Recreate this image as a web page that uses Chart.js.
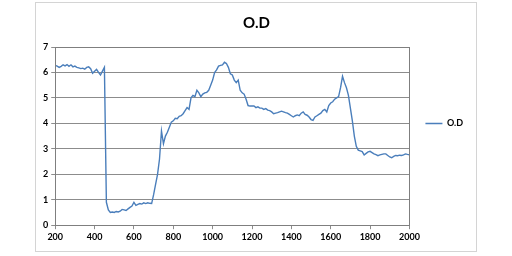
<!DOCTYPE html>
<html>
<head>
<meta charset="utf-8">
<script src="https://cdn.jsdelivr.net/npm/chart.js@4"></script>
<style>
  html, body { margin: 0; padding: 0; background: #fff; }
  #box { position: absolute; left: 35px; top: 2px; width: 442px; height: 250px;
         border: 1px solid #d4d4d4; box-sizing: border-box; }
  #odChart { display: block; }
</style>
</head>
<body>
<div id="box"><canvas id="odChart" width="440" height="248"></canvas></div>
<script>
// wavelength (nm) and optical density
const wavelength = [
  200, 210, 220, 230, 240, 250, 260, 270, 280, 290, 300, 310, 320, 330, 340, 350, 360, 370, 380, 390,
  400, 410, 420, 430, 440, 450, 460, 470, 480, 490, 500, 510, 520, 530, 540, 550, 560, 570, 580, 590,
  600, 610, 620, 630, 640, 650, 660, 670, 680, 690, 700, 710, 720, 730, 740, 750, 760, 770, 780, 790,
  800, 810, 820, 830, 840, 850, 860, 870, 880, 890, 900, 910, 920, 930, 940, 950, 960, 970, 980, 990,
  1000, 1010, 1020, 1030, 1040, 1050, 1060, 1070, 1080, 1090, 1100, 1110, 1120, 1130, 1140, 1150, 1160, 1170, 1180, 1190,
  1200, 1210, 1220, 1230, 1240, 1250, 1260, 1270, 1280, 1290, 1300, 1310, 1320, 1330, 1340, 1350, 1360, 1370, 1380, 1390,
  1400, 1410, 1420, 1430, 1440, 1450, 1460, 1470, 1480, 1490, 1500, 1510, 1520, 1530, 1540, 1550, 1560, 1570, 1580, 1590,
  1600, 1610, 1620, 1630, 1640, 1650, 1660, 1670, 1680, 1690, 1700, 1710, 1720, 1730, 1740, 1750, 1760, 1770, 1780, 1790,
  1800, 1810, 1820, 1830, 1840, 1850, 1860, 1870, 1880, 1890, 1900, 1910, 1920, 1930, 1940, 1950, 1960, 1970, 1980, 1990,
  2000
];
const od = [
  6.28, 6.25, 6.2, 6.24, 6.3, 6.26, 6.31, 6.24, 6.3, 6.22, 6.25, 6.2, 6.18, 6.15, 6.17, 6.13, 6.2, 6.22, 6.15, 5.97,
  6.05, 6.12, 6.0, 5.9, 6.05, 6.2, 0.9, 0.6, 0.5, 0.52, 0.5, 0.54, 0.52, 0.55, 0.62, 0.6, 0.58, 0.64, 0.7, 0.75,
  0.9, 0.78, 0.82, 0.85, 0.83, 0.88, 0.85, 0.88, 0.86, 0.85, 1.2, 1.6, 2.0, 2.6, 3.7, 3.2, 3.5, 3.65, 3.85, 4.05,
  4.1, 4.2, 4.18, 4.28, 4.3, 4.38, 4.5, 4.62, 4.55, 5.0, 5.1, 5.05, 5.3, 5.2, 5.05, 5.15, 5.2, 5.22, 5.3, 5.5,
  5.7, 6.0, 6.1, 6.25, 6.28, 6.3, 6.4, 6.35, 6.2, 5.95, 5.9, 5.7, 5.6, 5.7, 5.3, 5.2, 5.15, 4.95, 4.7, 4.68,
  4.68, 4.68, 4.62, 4.65, 4.6, 4.6, 4.55, 4.58, 4.52, 4.5, 4.45, 4.38, 4.4, 4.42, 4.45, 4.48, 4.45, 4.42, 4.4, 4.35,
  4.3, 4.25, 4.3, 4.33, 4.3, 4.4, 4.45, 4.35, 4.32, 4.25, 4.15, 4.12, 4.25, 4.3, 4.35, 4.4, 4.5, 4.55, 4.45, 4.7,
  4.8, 4.85, 4.95, 5.0, 5.05, 5.4, 5.85, 5.6, 5.4, 5.1, 4.6, 4.1, 3.5, 3.1, 2.95, 2.92, 2.89, 2.76, 2.82, 2.88,
  2.9, 2.85, 2.8, 2.77, 2.73, 2.76, 2.78, 2.8, 2.8, 2.74, 2.68, 2.65, 2.7, 2.74, 2.73, 2.75, 2.74, 2.76, 2.8, 2.78,
  2.77
];
const xTicks = [200, 400, 600, 800, 1000, 1200, 1400, 1600, 1800, 2000];
const yTicks = [0, 1, 2, 3, 4, 5, 6, 7];

const lineColor = '#4a7ebb';
const gridColor = '#8c8c8c';
const tickFont = { family: 'Lato', size: 9, weight: 'bold' };

// thin border round the plot area, like the spreadsheet chart
const plotBorder = {
  id: 'plotBorder',
  afterDraw(c) {
    const a = c.chartArea, ctx = c.ctx;
    ctx.save();
    ctx.strokeStyle = '#7f7f7f';
    ctx.lineWidth = 1;
    ctx.strokeRect(Math.round(a.left) + 0.5, Math.round(a.top) + 0.5,
      Math.round(a.right - a.left), Math.round(a.bottom - a.top));
    ctx.restore();
  }
};

new Chart(document.getElementById('odChart'), {
  type: 'line',
  data: {
    datasets: [{
      label: 'O.D',
      data: wavelength.map((w, i) => ({ x: w, y: od[i] })),
      borderColor: lineColor,
      backgroundColor: lineColor,
      borderWidth: 1.4,
      pointRadius: 0,
      tension: 0,
      fill: false
    }]
  },
  options: {
    responsive: false,
    animation: false,
    layout: { padding: { left: 4, right: 3, top: 0, bottom: 7 } },
    plugins: {
      title: {
        display: true, text: 'O.D', color: '#000',
        font: { family: 'Lato', size: 15, weight: 'bold' },
        padding: { top: 11, bottom: 15 }
      },
      legend: {
        position: 'right',
        labels: {
          color: '#000', font: tickFont,
          boxWidth: 17, boxHeight: 0, padding: 16
        }
      },
      tooltip: { enabled: false }
    },
    scales: {
      x: {
        type: 'linear', min: 200, max: 2000,
        afterBuildTicks: ax => { ax.ticks = xTicks.map(v => ({ value: v })); },
        grid: { drawOnChartArea: false, drawTicks: true, tickLength: 4, color: gridColor },
        border: { color: '#7f7f7f' },
        ticks: { color: '#000', font: tickFont, padding: 2, maxRotation: 0, callback: v => String(v) }
      },
      y: {
        min: 0, max: 7,
        afterBuildTicks: ax => { ax.ticks = yTicks.map(v => ({ value: v })); },
        grid: { color: gridColor, tickLength: 4 },
        border: { color: '#7f7f7f' },
        ticks: { color: '#000', font: tickFont, padding: 3 }
      }
    }
  },
  plugins: [plotBorder]
});
</script>
</body>
</html>
